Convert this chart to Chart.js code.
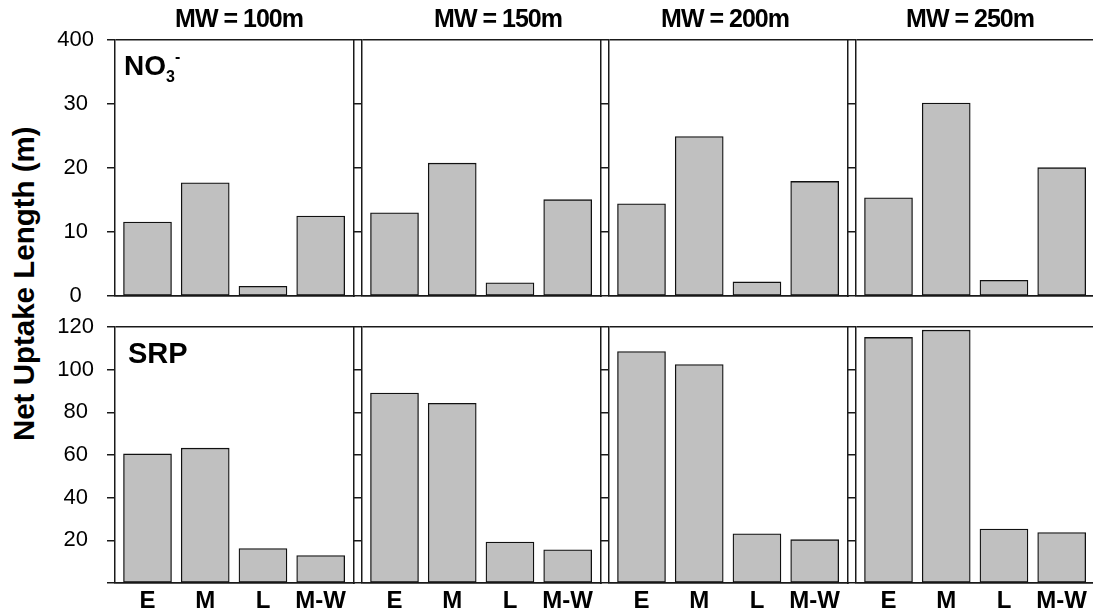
<!DOCTYPE html>
<html>
<head>
<meta charset="utf-8">
<script src="https://cdn.jsdelivr.net/npm/chart.js@4/dist/chart.umd.min.js"></script>
<style>
  html, body { margin: 0; padding: 0; background: #fff; overflow: hidden; }
  #wrap { position: relative; width: 1093px; height: 613px; overflow: hidden; }
  #wrap canvas { position: absolute; }
  #ytitle {
    position: absolute; left: -178.3px; top: 268.75px; width: 400px;
    height: 29.5px; line-height: 29.5px; text-align: center; white-space: nowrap;
    font: bold 29.5px 'Liberation Sans', Arial, sans-serif; color: #000;
    transform: rotate(-90deg);
  }
</style>
</head>
<body>
<div id="wrap"><div id="ytitle">Net Uptake Length (m)</div></div>
<script>
// Season categories on every panel
const categories = ['E', 'M', 'L', 'M-W'];
// Mixing widths, one column of panels each
const mixingWidths = ['MW = 100m', 'MW = 150m', 'MW = 200m', 'MW = 250m'];

// Nitrate net uptake length (m)
const no3_100m = [11.55, 17.7, 1.5, 12.5];
const no3_150m = [13.0, 20.75, 2.05, 15.05];
const no3_200m = [14.4, 24.9, 2.2, 17.9];
const no3_250m = [15.35, 30.15, 2.45, 20.05];

// SRP net uptake length (m)
const srp_100m = [60.5, 63.2, 16.1, 12.9];
const srp_150m = [89.0, 84.2, 19.2, 15.6];
const srp_200m = [108.5, 102.4, 23.1, 20.3];
const srp_250m = [115.1, 118.5, 25.3, 23.6];

// Y tick values and their printed labels
const no3TickValues = [0, 10, 20, 30, 40];
const no3TickLabels = ['0', '10', '20', '30', '400'];
const srpTickValues = [0, 20, 40, 60, 80, 100, 120];
const srpTickLabels = ['', '20', '40', '60', '80', '100', '120'];

// ---- layout ----
const PANEL_W = 239, PANEL_H = 256, STRIDE = 247, FIRST_LEFT = 115;
const ROW_TOP = [40, 327];
const ROW_PAD_TOP = [40, 32];
const ROW_PAD_BOTTOM = [30, 0];
const headerShift = [4.5, 16.5, -3.5, -5.5];
const LINE = '#1a1a1a';
const FONT = "'Liberation Sans', Arial, Helvetica, sans-serif";

const rows = [
  { series: [no3_100m, no3_150m, no3_200m, no3_250m], max: 40, ticks: no3TickValues, labels: no3TickLabels },
  { series: [srp_100m, srp_150m, srp_200m, srp_250m], max: 120, ticks: srpTickValues, labels: srpTickLabels }
];

// Draws headers and panel names (with sub/superscripts) relative to the plot area
function textPlugin(items) {
  return {
    id: 'panelText',
    afterDraw(chart) {
      const ctx = chart.ctx, a = chart.chartArea;
      items.forEach(it => {
        ctx.save();
        ctx.fillStyle = '#000';
        ctx.textBaseline = 'alphabetic';
        if ('letterSpacing' in ctx) ctx.letterSpacing = it.spacing || '0px';
        let total = 0;
        it.runs.forEach(r => {
          ctx.font = 'bold ' + r.size + 'px ' + FONT;
          total += ctx.measureText(r.text).width;
        });
        let x = it.center ? (a.left + a.right) / 2 + it.dx - total / 2 : a.left + it.dx;
        const y = a.top + it.dy;
        it.runs.forEach(r => {
          ctx.font = 'bold ' + r.size + 'px ' + FONT;
          ctx.fillText(r.text, x, y + (r.rise || 0));
          x += ctx.measureText(r.text).width;
        });
        ctx.restore();
      });
    }
  };
}

function makePanel(rowIdx, col) {
  const row = rows[rowIdx];
  const values = row.series[col];
  const isBottom = rowIdx === 1;
  const first = col === 0;
  const axisW = first ? FIRST_LEFT : 9;
  const padTop = ROW_PAD_TOP[rowIdx];
  const padBottom = ROW_PAD_BOTTOM[rowIdx];
  const xAxisH = isBottom ? 30 : 0;
  const panelLeft = FIRST_LEFT + col * STRIDE;

  const canvas = document.createElement('canvas');
  const w = axisW + PANEL_W + 2;
  const h = padTop + PANEL_H + xAxisH + padBottom;
  canvas.width = w; canvas.height = h;
  canvas.style.width = w + 'px'; canvas.style.height = h + 'px';
  canvas.style.left = (panelLeft - axisW) + 'px';
  canvas.style.top = (ROW_TOP[rowIdx] - padTop) + 'px';
  document.getElementById('wrap').appendChild(canvas);

  const items = [];
  if (rowIdx === 0) {
    items.push({ center: true, dx: headerShift[col], dy: -13.5, spacing: '-1px',
      runs: [{ text: mixingWidths[col], size: 25 }] });
    if (first) items.push({ dx: 9, dy: 35, runs: [
      { text: 'NO', size: 28 },
      { text: '3', size: 16, rise: 6.5 },
      { text: '-', size: 16, rise: -13.5 }
    ] });
  } else if (first) {
    items.push({ dx: 13, dy: 36.3, runs: [{ text: 'SRP', size: 29 }] });
  }

  new Chart(canvas, {
    type: 'bar',
    data: {
      datasets: [{
        data: values.map((v, i) => ({ x: i, y: v })),
        backgroundColor: '#c0c0c0',
        borderColor: '#111',
        borderWidth: 1.3,
        borderSkipped: false,
        barThickness: 48
      }]
    },
    options: {
      responsive: false,
      animation: false,
      devicePixelRatio: 1,
      layout: { padding: { top: padTop, bottom: padBottom, left: 0, right: 2 } },
      plugins: { legend: { display: false }, tooltip: { enabled: false }, title: { display: false } },
      scales: {
        x: {
          type: 'linear', position: 'bottom', min: -0.563, max: 3.577, offset: false,
          grid: { display: false, drawTicks: false, offset: false },
          border: { display: true, color: LINE, width: 1.5 },
          afterBuildTicks: s => { s.ticks = categories.map((c, i) => ({ value: i })); },
          afterFit: s => { s.height = xAxisH; },
          ticks: {
            display: isBottom, autoSkip: false, maxRotation: 0, padding: 4,
            color: '#000', font: { family: FONT, size: 24, weight: 'bold' },
            callback: v => categories[v]
          }
        },
        y: {
          type: 'linear', position: 'left', min: 0, max: row.max,
          afterBuildTicks: s => { s.ticks = row.ticks.map(v => ({ value: v })); },
          afterFit: s => { s.width = axisW; },
          grid: {
            drawOnChartArea: true, drawTicks: true, tickLength: 8,
            color: c => (c.tick && (c.tick.value === row.max || c.tick.value === 0)) ? LINE : 'rgba(0,0,0,0)',
            tickColor: LINE, lineWidth: 1.5, tickWidth: 1.5
          },
          border: { display: true, color: LINE, width: 1.5 },
          ticks: {
            display: first, crossAlign: 'center', padding: 13, color: '#000',
            font: { family: FONT, size: 22 },
            callback: (v, i) => row.labels[i]
          }
        },
        y2: {
          type: 'linear', position: 'right', min: 0, max: 1,
          grid: { display: false, drawTicks: false },
          border: { display: true, color: LINE, width: 1.5 },
          ticks: { display: false },
          afterFit: s => { s.width = 0; }
        }
      }
    },
    plugins: [textPlugin(items)]
  });
}

for (let r = 0; r < 2; r++) for (let c = 0; c < 4; c++) makePanel(r, c);
</script>
</body>
</html>
